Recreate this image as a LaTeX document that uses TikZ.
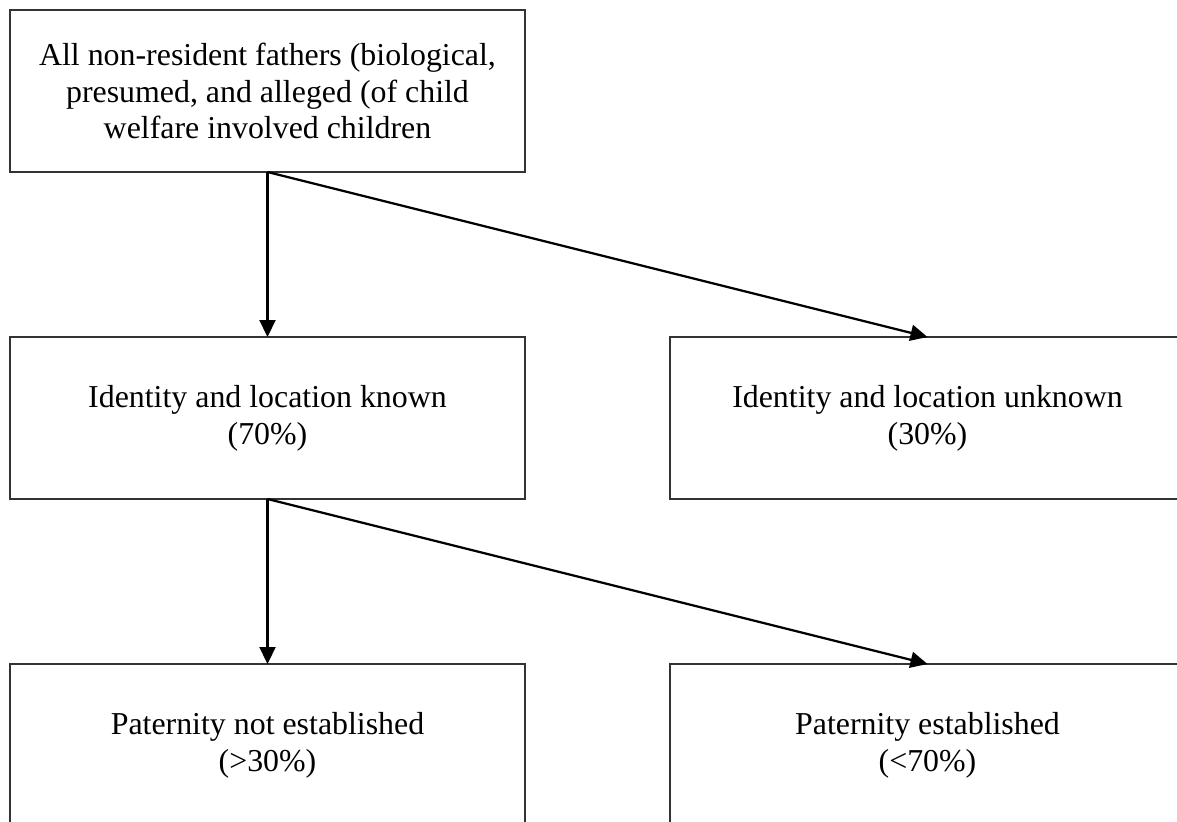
\documentclass[tikz,border=0pt]{standalone}
\usepackage{fontspec}
\setmainfont{Liberation Serif}
\usepackage{tikz}
\usetikzlibrary{positioning, arrows.meta}
\tikzset{
  box/.style={
    rectangle, draw=black!80, line width=1.3bp, minimum width=515bp,
    minimum height=162bp, inner sep=0pt, outer sep=0pt, align=center,
    font=\fontsize{32}{37}\selectfont
  },
  every edge/.style={draw, -{Triangle[length=17bp, width=16bp]}, line width=2.2bp},
}

\begin{document}
\begin{tikzpicture}[node distance=165bp and 145bp]
  \useasboundingbox (0,0) rectangle (1177bp,-822bp);
  \clip (0,0) rectangle (1177bp,-822bp);

  \node[box] (ALL) at (267.5bp,-91bp) {All non-resident fathers (biological,\\presumed, and alleged (of child\\welfare involved children};
  \node[box, below=of ALL] (KNOWN) {Identity and location known\\(70\%)};
  \node[box, right=of KNOWN] (UNKNOWN) {Identity and location unknown\\(30\%)};
  \node[box, below=of KNOWN] (NOTEST) {Paternity not established\\(>30\%)};
  \node[box, right=of NOTEST] (EST) {Paternity established\\(<70\%)};

  \path (ALL.south) edge (KNOWN.north)
        (ALL.south) edge (UNKNOWN.north)
        (KNOWN.south) edge (NOTEST.north)
        (KNOWN.south) edge (EST.north);
\end{tikzpicture}
\end{document}
